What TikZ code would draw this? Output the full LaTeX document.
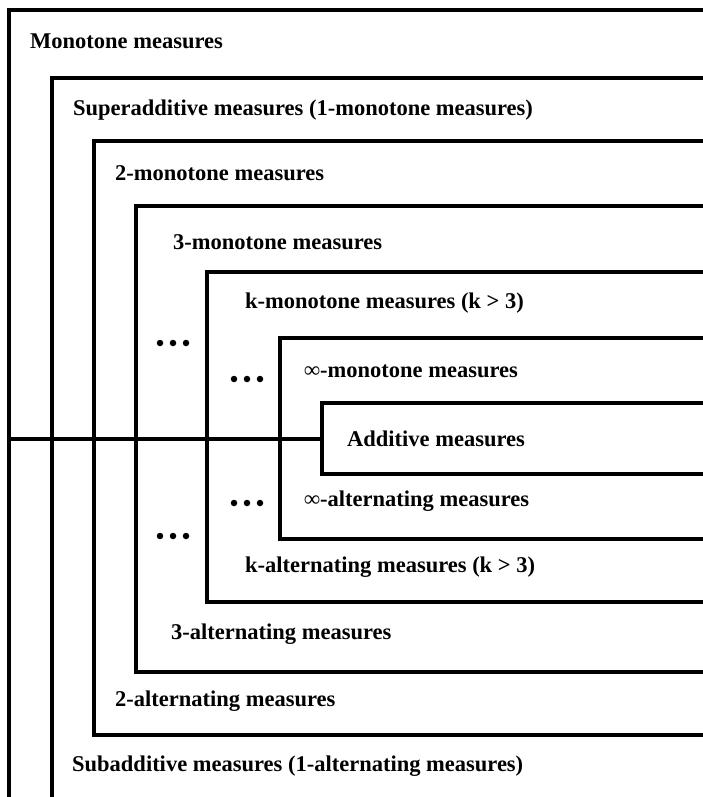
\documentclass[tikz,border=0pt]{standalone}
\usepackage{fontspec}
\setmainfont{Liberation Serif}
\begin{document}
\begin{tikzpicture}[x=1pt,y=-1pt,
  frame/.style={line width=3.2pt,line join=miter},
  lbl/.style={anchor=west,inner sep=0pt,font=\bfseries\fontsize{22.5}{26}\selectfont},
  dot/.style={fill=black,circle,inner sep=0pt,minimum size=6.5pt}]
\useasboundingbox (0,0) rectangle (703,797);
\begin{scope}
\clip (0,0) rectangle (703,797);
% open frames (right sides run off the picture)
\draw[frame] (710,10) -- (9,10) -- (9,805);
\draw[frame] (710,78) -- (52,78) -- (52,805);
\draw[frame] (710,141) -- (94,141) -- (94,735) -- (710,735);
\draw[frame] (710,206) -- (136,206) -- (136,672) -- (710,672);
\draw[frame] (710,272) -- (207,272) -- (207,602) -- (710,602);
\draw[frame] (710,338) -- (280,338) -- (280,539) -- (710,539);
\draw[frame] (710,403) -- (322,403) -- (322,474) -- (710,474);
\coordinate (lineL) at (9,439);
\coordinate (addW) at (322,439);
\draw[frame] (lineL) -- (addW);
\end{scope}
% labels
\node[lbl] (mono) at (30,41) {Monotone measures};
\node[lbl] (super) at (73,110) {Superadditive measures (1-monotone measures)};
\node[lbl] (two) at (115,173) {2-monotone measures};
\node[lbl] (three) at (173,242) {3-monotone measures};
\node[lbl] (k) at (245,303) {k-monotone measures (k > 3)};
\node[lbl] (inf) at (304,371) {∞-monotone measures};
\node[lbl] (add) at (347,439) {Additive measures};
\node[lbl] (infalt) at (304,501) {∞-alternating measures};
\node[lbl] (kalt) at (245,567) {k-alternating measures (k > 3)};
\node[lbl] (threealt) at (171,634) {3-alternating measures};
\node[lbl] (twoalt) at (115,701) {2-alternating measures};
\node[lbl] (sub) at (72,766) {Subadditive measures (1-alternating measures)};
% ellipses
\foreach \n/\x/\y in {a/160/343, b/234/379, c/234/503, d/160/536}{
  \node[dot] (\n1) at (\x,\y) {};
  \node[dot] (\n2) at (\x+13,\y) {};
  \node[dot] (\n3) at (\x+26,\y) {};
}
\end{tikzpicture}
\end{document}
